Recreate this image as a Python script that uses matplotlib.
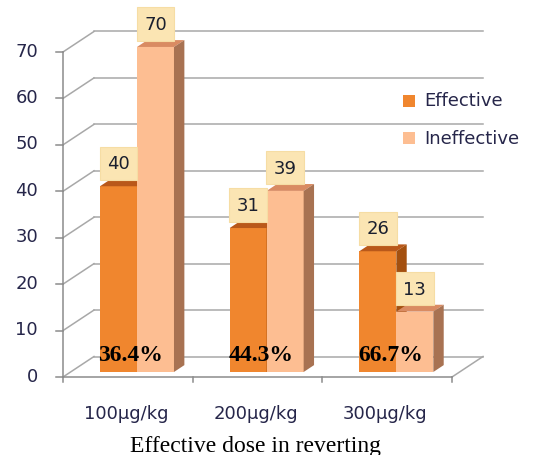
import matplotlib
matplotlib.use("Agg")
import matplotlib.pyplot as plt
from matplotlib.patches import Polygon, Rectangle

# ---- data ----
categories = ["100\u00b5g/kg", "200\u00b5g/kg", "300\u00b5g/kg"]
series_names = ["Effective", "Ineffective"]
effective = [40, 31, 26]
ineffective = [70, 39, 13]
rates = ["36.4%", "44.3%", "66.7%"]
y_ticks = [0, 10, 20, 30, 40, 50, 60, 70]
x_title = "Effective dose in reverting"

# ---- styling ----
front_colors = ["#F0862E", "#FDBE92"]
top_colors = ["#B9581A", "#D98B62"]
side_colors = ["#A4500F", "#A87252"]
grid_color = "#A8A8A8"
axis_color = "#8C8C8C"
label_color = "#26264A"
value_color = "#1A1F2E"
box_color = "#FBE5B3"
label_size = 13

W, H = 538, 456
fig = plt.figure(figsize=(W / 100, H / 100), dpi=100)
ax = fig.add_axes([0, 0, 1, 1])
ax.set_axis_off()

# pixel mapping of the front plane
px_per_cat = 129.67
px_per_unit = 4.643
x0_px, y0_px = 63, 378
ax.set_xlim(-x0_px / px_per_cat, (W - x0_px) / px_per_cat)
ax.set_ylim((y0_px - H) / px_per_unit, y0_px / px_per_unit)

# depth offset of the back wall (data units)
DX = 31 / px_per_cat
DY = 20.5 / px_per_unit
ncat = len(categories)
ymax = max(y_ticks)


def depth(x, y, d):
    return x + d * DX, y + d * DY


# ---- walls and gridlines ----
for v in y_ticks:
    bx0, by0 = depth(0, v, 1)
    bx1, by1 = depth(ncat, v, 1)
    ax.plot([bx0, bx1], [by0, by1], color=grid_color, lw=1.1, zorder=1)
    ax.plot([0, bx0], [v, by0], color=grid_color, lw=1.1, zorder=1)
    # left tick
    ax.plot([-7 / px_per_cat, 0], [v, v], color=axis_color, lw=1.1, zorder=2)
    ax.text(-25 / px_per_cat, v + 0.3, str(v), ha="right", va="center",
            fontsize=label_size, color=label_color, family="DejaVu Sans")

# floor right edge
rx, ry = depth(ncat, 0, 1)
ax.plot([ncat, rx], [0, ry], color=grid_color, lw=1.1, zorder=1)
# front axes
ax.plot([0, 0], [0, ymax], color=axis_color, lw=1.1, zorder=2)
ax.plot([0, ncat], [0, 0], color=axis_color, lw=1.1, zorder=2)
for i in range(ncat + 1):
    ax.plot([i, i], [0, -5 / px_per_unit], color=axis_color, lw=1.1, zorder=2)

# ---- 3D bars ----
bar_w = 37 / px_per_cat
d0, d1 = 0.245, 0.58
group_shift = 0.012
z = 3
for i in range(ncat):
    for s, vals in enumerate([effective, ineffective]):
        v = vals[i]
        left = i + 0.5 + group_shift - bar_w + s * bar_w
        fx, fy = depth(left, 0, d0)
        ax.bar(fx, v, width=bar_w, bottom=fy, align="edge",
               color=front_colors[s], edgecolor="none", zorder=z)
        # top face
        top = [depth(left, v, d0), depth(left + bar_w, v, d0),
               depth(left + bar_w, v, d1), depth(left, v, d1)]
        ax.add_patch(Polygon(top, closed=True, facecolor=top_colors[s],
                             edgecolor="none", zorder=z))
        # side face
        side = [depth(left + bar_w, 0, d0), depth(left + bar_w, v, d0),
                depth(left + bar_w, v, d1), depth(left + bar_w, 0, d1)]
        ax.add_patch(Polygon(side, closed=True, facecolor=side_colors[s],
                             edgecolor="none", zorder=z))
        z += 1
        # value label box
        cx, cy = depth(left + bar_w / 2, v, d0)
        ax.text(cx, cy + 23 / px_per_unit, str(v), ha="center", va="center",
                fontsize=label_size, color=value_color, family="DejaVu Sans",
                zorder=50,
                bbox=dict(boxstyle="square,pad=0.42", facecolor=box_color,
                          edgecolor="#F6DDA4", linewidth=0.8))

    # percentage label
    cx, _ = depth(i + 0.5 + group_shift, 0, d0)
    ax.text(cx - 6 / px_per_cat, 17 / px_per_unit, rates[i], ha="center",
            va="baseline", fontsize=17, fontweight="bold",
            family="Liberation Serif", color="black", zorder=60)

    # category label
    ax.text(i + 0.485, -36 / px_per_unit, categories[i], ha="center",
            va="center", fontsize=label_size, color=label_color,
            family="DejaVu Sans")

# x title
ax.text((255 - x0_px) / px_per_cat, (y0_px - 452) / px_per_unit, x_title,
        ha="center", va="baseline", fontsize=17, family="Liberation Serif",
        color="black")

# ---- legend ----
leg_x = (403 - x0_px) / px_per_cat
sq_w = 12 / px_per_cat
sq_h = 12 / px_per_unit
for s, name in enumerate(series_names):
    cy = (y0_px - (101.5 + 37 * s)) / px_per_unit
    ax.add_patch(Rectangle((leg_x, cy - sq_h / 2), sq_w, sq_h,
                           facecolor=front_colors[s], edgecolor="none",
                           zorder=5))
    ax.text((424 - x0_px) / px_per_cat, cy, name, ha="left", va="center",
            fontsize=label_size, color=label_color, family="DejaVu Sans")

fig.savefig("out.png", dpi=100)
